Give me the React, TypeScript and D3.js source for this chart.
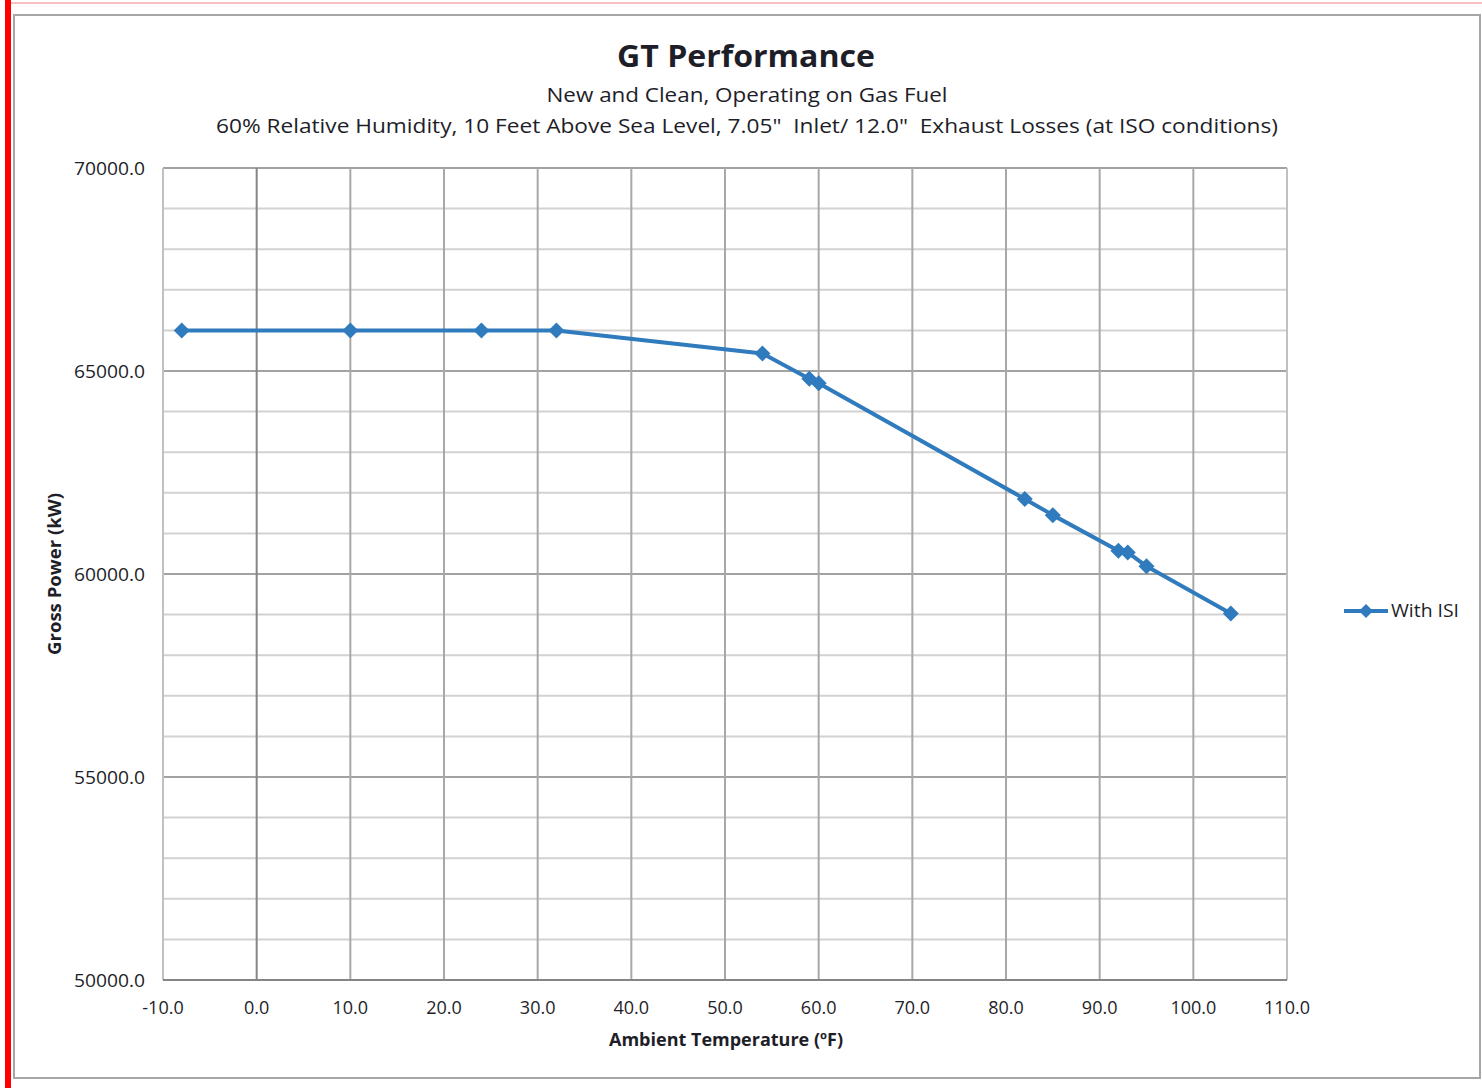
import * as d3 from "d3";

const temps = [-8, 10, 24, 32, 54, 59, 60, 82, 85, 92, 93, 95, 104];
const power = [66000, 66000, 66000, 66000, 65430, 64810, 64700, 61850, 61450, 60570, 60530, 60190, 59030];
const xTicks = [-10, 0, 10, 20, 30, 40, 50, 60, 70, 80, 90, 100, 110];
const yTicks = [50000, 55000, 60000, 65000, 70000];
const seriesName = "With ISI";

const W = 1482;
const H = 1088;
const margin = { top: 168, right: 195, bottom: 108, left: 163 };
const font = "'Open Sans', sans-serif";
const textColor = "#1e1e28";
const blue = "#2f7bbd";

const Diamond = ({ cx, cy, r }: { cx: number; cy: number; r: number }) => (
  <path d={`M${cx},${cy - r}L${cx + r},${cy}L${cx},${cy + r}L${cx - r},${cy}Z`} fill={blue} />
);

export default function App() {
  const x = d3.scaleLinear().domain([-10, 110]).range([margin.left, W - margin.right]);
  const y = d3.scaleLinear().domain([50000, 70000]).range([H - margin.bottom, margin.top]);

  const pts = temps.map((t, i) => [t, power[i]] as [number, number]);
  const line = d3
    .line<[number, number]>()
    .x((d) => x(d[0]))
    .y((d) => y(d[1]));

  const minor = d3.range(50000, 70001, 1000);

  return (
    <svg width={W} height={H} style={{ position: "absolute", left: 0, top: 0, background: "#fff" }}>
      <line x1={10} x2={W} y1={3} y2={3} stroke="#f08080" strokeWidth={1} />
      <rect x={5} y={0} width={6} height={H} fill="#ff0000" />
      <rect x={14} y={15} width={1466} height={1063} fill="#fff" stroke="#a6a6a6" strokeWidth={2} />

      <text x={746} y={67} textAnchor="middle" fontFamily={font} fontWeight="bold" fontSize={30} fill={textColor} textLength={258} lengthAdjust="spacingAndGlyphs">
        GT Performance
      </text>
      <text x={747} y={102} textAnchor="middle" fontFamily={font} fontSize={20} fill={textColor} textLength={401} lengthAdjust="spacingAndGlyphs">
        New and Clean, Operating on Gas Fuel
      </text>
      <text x={747} y={133} textAnchor="middle" fontFamily={font} fontSize={20} fill={textColor} textLength={1062} lengthAdjust="spacingAndGlyphs" style={{ whiteSpace: "pre" }}>
        {'60% Relative Humidity, 10 Feet Above Sea Level, 7.05"  Inlet/ 12.0"  Exhaust Losses (at ISO conditions)'}
      </text>

      {/* horizontal grid */}
      {minor.map((v) => (
        <line
          key={"h" + v}
          x1={x(-10)}
          x2={x(110)}
          y1={y(v)}
          y2={y(v)}
          stroke={v % 5000 === 0 ? "#a2a2a2" : "#d2d2d2"}
          strokeWidth={2}
        />
      ))}
      {/* vertical grid */}
      {xTicks.map((t) => (
        <line
          key={"v" + t}
          x1={x(t)}
          x2={x(t)}
          y1={y(70000)}
          y2={y(50000)}
          stroke={t === 0 ? "#858585" : t === -10 || t === 110 ? "#c0c0c0" : "#aaa8a6"}
          strokeWidth={2}
        />
      ))}
      <line x1={x(-10)} x2={x(110)} y1={y(50000)} y2={y(50000)} stroke="#858585" strokeWidth={2} />

      {yTicks.map((v) => (
        <text key={"yl" + v} x={145} y={y(v) + 7} textAnchor="end" fontFamily={font} fontSize={18} fill={textColor} textLength={71} lengthAdjust="spacingAndGlyphs">
          {v.toFixed(1)}
        </text>
      ))}
      {xTicks.map((t) => (
        <text key={"xl" + t} x={x(t)} y={1014} textAnchor="middle" fontFamily={font} fontSize={18} fill={textColor}>
          {t.toFixed(1)}
        </text>
      ))}

      <text x={726} y={1046} textAnchor="middle" fontFamily={font} fontWeight="bold" fontSize={17} fill={textColor} textLength={234} lengthAdjust="spacingAndGlyphs">
        Ambient Temperature (ºF)
      </text>
      <text
        transform={`translate(61,574) rotate(-90)`}
        textAnchor="middle"
        fontFamily={font}
        fontWeight="bold"
        fontSize={17}
        fill={textColor}
        textLength={162}
        lengthAdjust="spacingAndGlyphs"
      >
        Gross Power (kW)
      </text>

      <path d={line(pts) || ""} fill="none" stroke={blue} strokeWidth={4} strokeLinejoin="round" />
      {pts.map((d, i) => (
        <Diamond key={i} cx={x(d[0])} cy={y(d[1])} r={8} />
      ))}

      <line x1={1344} x2={1388} y1={611} y2={611} stroke={blue} strokeWidth={4} />
      <Diamond cx={1366} cy={611} r={7} />
      <text x={1391} y={617} fontFamily={font} fontSize={18} fill={textColor} textLength={68} lengthAdjust="spacingAndGlyphs">
        {seriesName}
      </text>
    </svg>
  );
}
